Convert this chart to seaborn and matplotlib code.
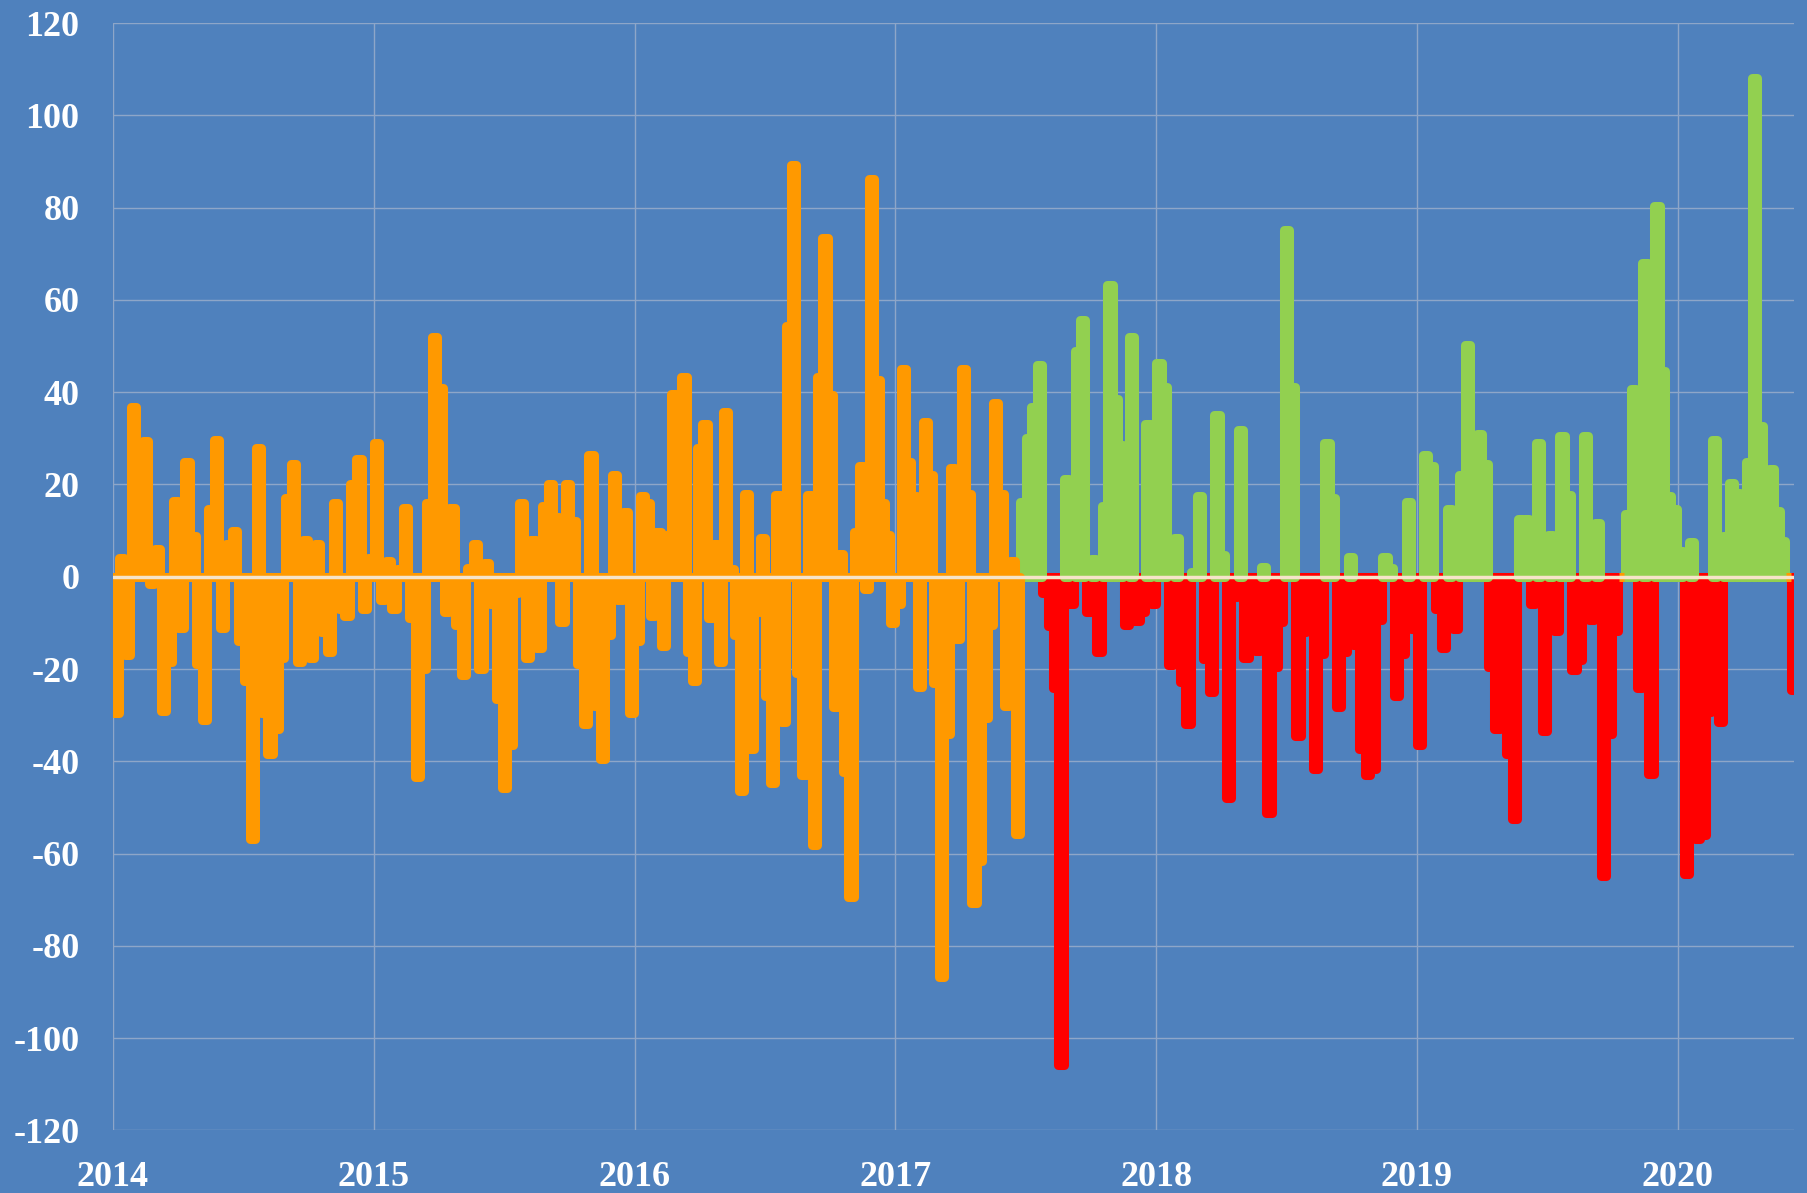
"""
Weekly change chart, 2014 - mid 2020
orange = before mid-2017, then green (up) / red (down)
"""
import numpy as np
import pandas as pd
import matplotlib
matplotlib.use("Agg")
import matplotlib.pyplot as plt
import seaborn as sns

# ---- data (one list per calendar year) ----
years = [2014, 2015, 2016, 2017, 2018, 2019, 2020]

v2014 = [-29.6, 4, -17, 36.8, 27.8, 29.4, -1.5, 6, -29, -18.4, 16.5, -11, 24.8, 8.8,
         -19, -31, 14.6, 29.7, -11, 7, 10, -14, -22.5, -56.8, 27.8, -29.6, -38.5, -33,
         -17.5, 17, 24.4, -18.4, 8, -17.5, 7, -12, -16.4, 16, -7, -8.5, 20, 25.6, -7, 4]
v2015 = [29, -5, 3.4, -7, 1.7, 15, -9, -43.4, -20, 16, 52, 41, -7.7, 15, -10.5, -21.3,
         2, 7, -20, 3, -6, -26.6, -45.7, -36.5, -3.5, 16, -17.5, 8, -15.4, 15.4, 20, 13,
         -9.8, 20, 12, -19, -32, 26.4, -28, -39.5, -12.6, 22, -5, 14, -29.6]
v2016 = [-14, 17.4, 16, -8.5, 9.6, -15, 9, 39.7, 36, 43.3, -16.4, -22.5, 28, 33, -9, 7,
         -18.4, 35.6, 1.7, -12.6, -46.4, 18, -37.3, -7.7, 8.5, -25.8, -44.7, 17.8, -31.5,
         54.4, 89.2, -20.8, -43, 17.8, -58.2, 43.3, 73.4, 39.3, -28.2, 5, -42.3, -69.4,
         9.6, 24, -2.7, 86.2, 42.6, 16, 9, -10]
v2017 = [-6, 45, 24.8, 17.4, -23.8, 33.5, 22, -23, -86.7, -34, 23.6, -13.4, 45, 18,
         -70.6, -61.7, -30.7, -10.5, 37.6, 18, -28, 3.5, -55.8, 16.2, 30, 36.8, 45.9,
         -3.5, -10.6, -24, -105.7, 21.2, -6, 49, 55.7, -7.7, 3.9, -16.4, 15.4, 63.2,
         38.5, 28.6, -10.5, 52, -9.6, -7.7, 33, -6]
v2018 = [46.3, 41.2, -19.2, 8.3, -22.8, -32, 1, 17.5, -17.8, -25, 35, 4.7, -48, -4.4,
         31.7, -17.5, -12.6, -16, 2.2, -51.3, -19.5, -9.8, 75.2, 41.2, -34.5, -12, -10.5,
         -41.7, -16.7, 29, 17, -28.2, -16.4, 4.2, -14.7, -37.3, -43, -41.7, -9.3, 4.2, 2,
         -25.8, -16.7, 16.2, -11.4]
v2019 = [-36.5, 26.4, 24, -7, -15.4, 14.6, -11.4, 22, 50.3, 29.7, 31, 24.5, -19.5,
         -32.9, -13.7, -38.5, -52.6, 12.6, 12.6, -6, 29, -33.5, 9, -11.8, 30.5, 17.8,
         -20.3, -18, 30.5, -9.3, 11.6, -64.8, -34, -11.8, 0, 13.5, 40.6, -24, 68, -42.7,
         80.4, 44.6, 17.4, 14.6]
v2020 = [5.5, -64.4, 7.5, -56.8, -56, -29.4, 29.7, -31.5, 8.8, 20.3, 18.2, 8.3, 24.8,
         108, 32.7, 16.2, 23.3, 14.3, 7.7, 0, -24.6]

series = [v2014, v2015, v2016, v2017, v2018, v2019, v2020]
part_2020 = 0.457      # share of 2020 covered by the data
split_year = 2017.48   # colouring switches from orange to green/red here
x_end = 2020.446

# build table
rows = []
for yr, vals in zip(years, series):
    span = part_2020 if yr == 2020 else 1.0
    n = len(vals)
    for i, v in enumerate(vals):
        rows.append((yr + span * (i + 0.5) / n, v))
df = pd.DataFrame(rows, columns=["t", "value"])


def phase(r):
    if r.t < split_year or r.value == 0:
        return "orange"
    return "green" if r.value > 0 else "red"


df["phase"] = df.apply(phase, axis=1)

BG = "#4F81BD"
pal = {"orange": "#FF9900", "green": "#92D050", "red": "#FF0000"}

sns.set_theme(style="dark")
plt.rcParams["font.family"] = ["Liberation Serif", "DejaVu Serif"]
plt.rcParams["font.weight"] = "bold"
plt.rcParams["axes.unicode_minus"] = False

fig = plt.figure(figsize=(18.07, 11.93), dpi=100)
fig.patch.set_facecolor(BG)
ax = fig.add_axes([0.0625, 0.0524, 0.9303, 0.9283])
ax.set_facecolor(BG)

sns.barplot(data=df, x="t", y="value", hue="phase", hue_order=["red", "green", "orange"],
            palette=pal, native_scale=True, orient="x", dodge=False, errorbar=None,
            width=1.0, saturation=1, legend=False, ax=ax)

# thick outline in the same colour -> rounded, overlapping columns
for p in ax.patches:
    p.set_edgecolor(p.get_facecolor())
    p.set_linewidth(6.5)
    p.set_joinstyle("round")

ax.axhline(0, color="#F6E4CA", lw=2.5, zorder=5)

ax.set_xlim(2014, x_end)
ax.set_ylim(-120, 120)
ax.set_xticks(years)
ax.set_xticklabels([str(y) for y in years])
ax.set_yticks(np.arange(-120, 121, 20))
ax.set_xlabel("")
ax.set_ylabel("")

ax.grid(True, color="#8EA6C8", lw=1)
ax.set_axisbelow(True)
for s in ax.spines.values():
    s.set_visible(False)
ax.tick_params(axis="both", length=0, labelsize=26, labelcolor="white")
ax.tick_params(axis="y", pad=24)
ax.tick_params(axis="x", pad=22)

fig.savefig("out.png", dpi=100, facecolor=BG)
